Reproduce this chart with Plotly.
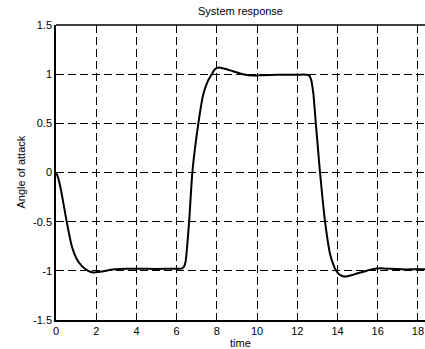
import plotly.graph_objects as go

time = [0, 0.1, 0.25, 0.4, 0.55, 0.78, 1.03, 1.28, 1.6, 1.86, 2.2, 2.6, 2.93, 3.5, 4.5, 5.5,
        6.28, 6.38, 6.45, 6.62, 6.78, 7.08, 7.33, 7.55, 7.75, 7.9, 8.08, 8.4, 8.8, 9.3,
        9.83, 10.25, 11, 12, 12.45, 12.57, 12.68, 12.8, 12.92, 13.13, 13.38, 13.63, 13.78,
        13.88, 14.05, 14.2, 14.38, 14.7, 15.0, 15.29, 15.6, 15.95, 16.3, 16.6, 17.2, 17.8, 18.4]
angle = [0, -0.05, -0.18, -0.35, -0.52, -0.745, -0.88, -0.95, -1.0, -1.017, -1.01, -0.995, -0.985,
         -0.98, -0.98, -0.98, -0.975, -0.95, -0.9, -0.5, 0, 0.5, 0.8, 0.93, 1.0, 1.05, 1.068,
         1.055, 1.03, 1.0, 0.986, 0.99, 0.995, 0.995, 0.995, 0.99, 0.95, 0.8, 0.5, 0, -0.5,
         -0.83, -0.93, -0.98, -1.03, -1.05, -1.058, -1.045, -1.025, -1.01, -0.99, -0.976,
         -0.975, -0.98, -0.985, -0.985, -0.985]

x_ticks = [0, 2, 4, 6, 8, 10, 12, 14, 16, 18]
y_ticks = [-1.5, -1, -0.5, 0, 0.5, 1, 1.5]
y_tick_labels = ["-1.5", "-1", "-0.5", "0", "0.5", "1", "1.5"]

FONT = "Liberation Sans, Arial, sans-serif"

fig = go.Figure()
fig.add_trace(go.Scatter(x=time, y=angle, mode="lines",
                         line=dict(color="black", width=2, shape="spline", smoothing=0.5),
                         showlegend=False, hoverinfo="skip"))

fig.update_layout(
    width=425, height=349,
    margin=dict(l=56, r=0, t=25, b=29),
    paper_bgcolor="white", plot_bgcolor="white",
    font=dict(family=FONT, size=11, color="black"),
    xaxis=dict(range=[0, 18.35], tickvals=x_ticks, showgrid=True,
               gridcolor="black", gridwidth=1, griddash="8px,4px",
               showline=True, linecolor="black", linewidth=1.5,
               ticks="inside", ticklen=4, tickcolor="black",
               zeroline=False, tickfont=dict(size=11, family=FONT)),
    yaxis=dict(range=[-1.5, 1.5], tickvals=y_ticks, ticktext=y_tick_labels, showgrid=True,
               gridcolor="black", gridwidth=1, griddash="8px,4px",
               showline=True, linecolor="black", linewidth=1.5,
               ticks="inside", ticklen=4, tickcolor="black",
               zeroline=False, tickfont=dict(size=11, family=FONT)),
    shapes=[dict(type="line", xref="paper", yref="paper", x0=0, x1=1, y0=1, y1=1,
                 line=dict(color="black", width=1.5))],
    annotations=[
        dict(text="System response", xref="paper", yref="paper", x=0.5, y=1,
             yshift=14, yanchor="middle", showarrow=False, font=dict(size=11, family=FONT)),
        dict(text="time", xref="paper", yref="paper", x=0.5, y=0, yshift=-23,
             yanchor="middle", showarrow=False, font=dict(size=11, family=FONT)),
        dict(text="Angle of attack", xref="paper", yref="paper", x=0, y=0.5,
             xshift=-36, xanchor="center", textangle=-90, showarrow=False,
             font=dict(size=11, family=FONT)),
    ],
)

fig.write_html("out.html", config={"displayModeBar": False},
               post_script="document.body.style.margin='0';document.body.style.overflow='hidden';")
